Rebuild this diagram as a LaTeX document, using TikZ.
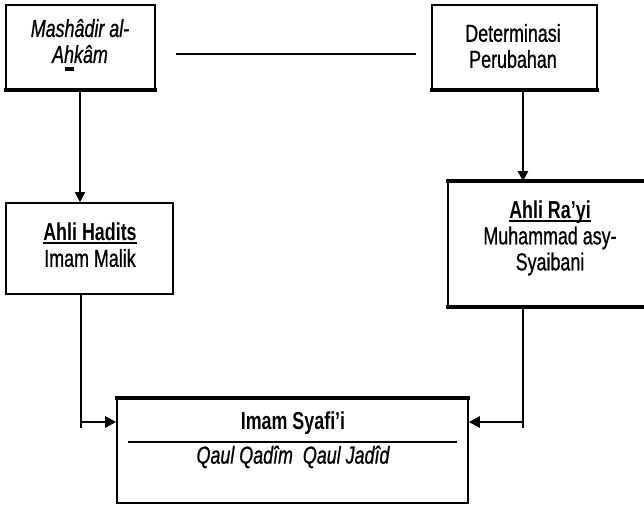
\documentclass[tikz,border=0pt]{standalone}
\usepackage{fontspec}
\setmainfont{Liberation Sans}[FakeStretch=0.73,UprightFeatures={FakeBold=0.8},ItalicFeatures={FakeBold=0.8}]
\usetikzlibrary{arrows.meta}
\newcommand\myul[1]{\setbox0\hbox{#1}\rlap{\rule[-3.5pt]{\wd0}{2pt}}\box0}
\newcommand\barbelow[1]{\setbox0\hbox{#1}\rlap{\hspace{0.05\wd0}\rule[-8pt]{0.9\wd0}{3.5pt}}\box0}
\begin{document}
\begin{tikzpicture}[x=1pt,y=-1pt,
  box/.style={draw,line width=1.6pt,inner sep=0pt},
  lbl/.style={align=center,inner sep=0pt,font=\fontsize{24.5}{26}\selectfont},
  conn/.style={line width=1.6pt},
  arr/.style={line width=1.8pt,-{Triangle[length=10pt,width=10pt]}},
  harr/.style={line width=2.6pt,-{Triangle[length=11pt,width=11pt]}}]
\useasboundingbox (0,0) rectangle (644,505);
\clip (0,0) rectangle (644,505);
% boxes
\node[box,minimum width=149pt,minimum height=84pt] (mash) at (80.5,47) {};
\node[box,minimum width=165pt,minimum height=84pt] (det) at (514.5,47) {};
\node[box,minimum width=167pt,minimum height=91pt] (had) at (89.5,248.5) {};
\node[box,minimum width=204pt,minimum height=124pt] (ray) at (550,244) {};
\node[box,minimum width=351pt,minimum height=104pt] (syf) at (292.5,451) {};
% thick edges
\draw[line width=4pt] ([xshift=-0.8pt]mash.south west) -- ([xshift=0.8pt]mash.south east);
\draw[line width=4pt] ([xshift=-0.8pt]det.south west) -- ([xshift=0.8pt]det.south east);
\draw[line width=4pt] ([xshift=-0.8pt]ray.north west) -- ([xshift=0.8pt]ray.north east);
\draw[line width=4pt] ([xshift=-0.8pt]ray.south west) -- ([xshift=0.8pt]ray.south east);
\draw[line width=4pt] ([xshift=-0.8pt]syf.north west) -- ([xshift=0.8pt]syf.north east);
% texts
\node[lbl] (tmash) at (80,45) {\itshape Mashâdir al-\\\itshape A\barbelow{h}kâm};
\node[lbl] (tdet) at (513,46) {Determinasi\\Perubahan};
\node[lbl] (thad) at (90,245) {\bfseries\myul{Ahli Hadits}\\Imam Malik};
\node[lbl] (tray) at (550,238) {\bfseries\myul{Ahli Ra’yi}\\Muhammad asy-\\Syaibani};
\node[lbl] (tsyf1) at (293,423) {\bfseries Imam Syafi’i};
\node[lbl] (tsyf2) at (293,457) {\itshape Qaul Qadîm\ \ Qaul Jadîd};
\coordinate (sepl) at (128,442);
\coordinate (sepr) at (457,442);
\draw[line width=2.6pt] (sepl) -- (sepr);
% connectors
\coordinate (hl) at (176,54);
\coordinate (hr) at (416,54);
\draw[conn] (hl) -- (hr);
\coordinate (a1) at (80,90);
\coordinate (a2) at (523,90);
\draw[arr] (a1) -- (a1 |- had.north);
\draw[arr] (a2) -- (a2 |- ray.north);
\coordinate (lc) at (81,428);
\coordinate (rc) at (523,428);
\coordinate (la) at (81,422);
\coordinate (ra) at (523,422);
\draw[conn] (had.south -| lc) -- (lc);
\draw[conn] (ray.south -| rc) -- (rc);
\draw[harr] (la) -- (la -| syf.west);
\draw[harr] (ra) -- (ra -| syf.east);
\end{tikzpicture}
\end{document}
